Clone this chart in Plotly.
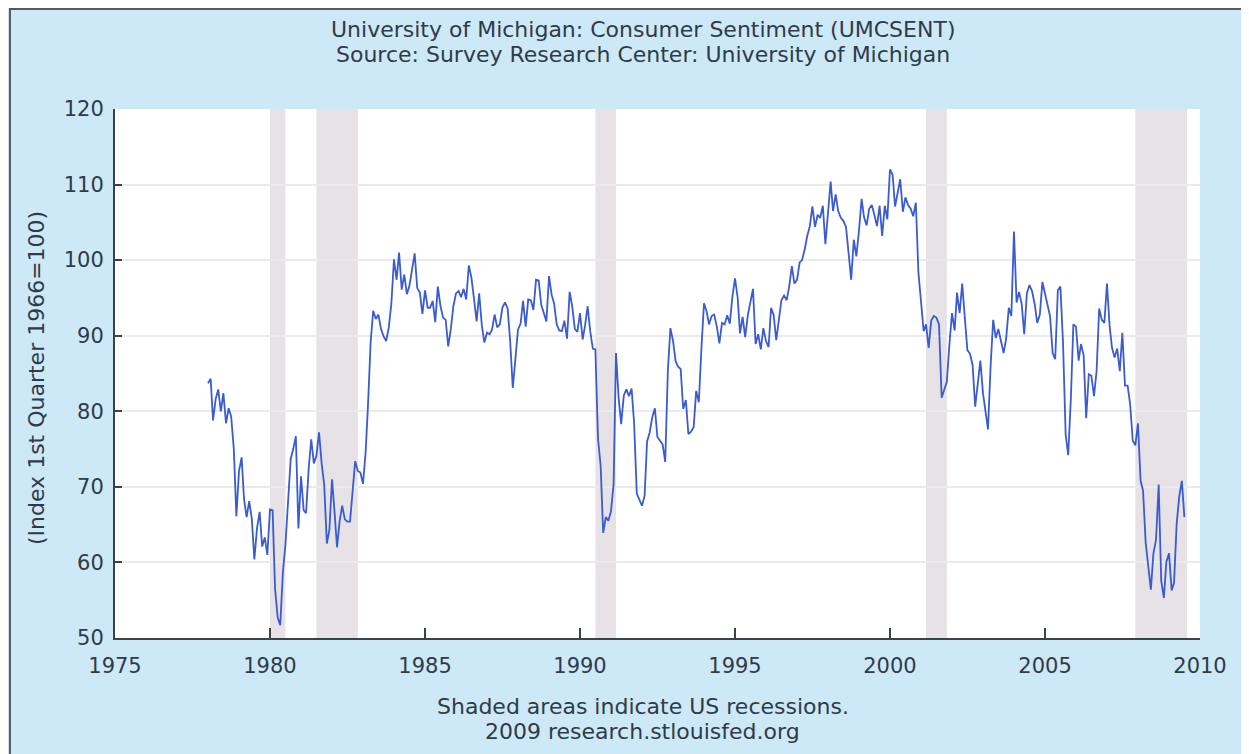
import pandas as pd
import plotly.graph_objects as go

# monthly index values, Jan 1978 onwards
sent_1978_1979 = [
    83.7, 84.3, 78.8, 81.6, 82.9, 80.0, 82.4, 78.4, 80.4, 79.3, 75.0, 66.1,
    72.1, 73.9, 68.4, 66.0, 68.1, 65.8, 60.4, 64.5, 66.7, 62.1, 63.3, 61.0,
]
sent_1980s = [
    67.0, 66.9, 56.5, 52.7, 51.7, 58.7, 62.3, 67.3, 73.7, 75.0, 76.7, 64.5,
    71.4, 66.9, 66.5, 72.4, 76.3, 73.1, 74.1, 77.2, 73.1, 70.3, 62.5, 64.3,
    71.0, 66.5, 62.0, 65.5, 67.5, 65.7, 65.4, 65.4, 69.3, 73.4, 72.1, 71.9,
    70.4, 74.6, 80.8, 89.1, 93.3, 92.2, 92.8, 90.9, 89.9, 89.3, 91.1, 94.2,
    100.1, 97.4, 101.0, 96.1, 98.1, 95.5, 96.6, 99.1, 100.9, 96.3, 95.7, 92.9,
    96.0, 93.7, 93.7, 94.6, 91.8, 96.5, 94.0, 92.4, 92.1, 88.6, 90.9, 93.9,
    95.6, 95.9, 95.1, 96.2, 94.8, 99.3, 97.7, 94.9, 91.9, 95.6, 91.4, 89.1,
    90.4, 90.2, 90.8, 92.8, 91.1, 91.5, 93.7, 94.4, 93.6, 89.3, 83.1, 86.8,
    90.8, 91.6, 94.6, 91.2, 94.8, 94.7, 93.4, 97.4, 97.3, 94.1, 93.0, 91.9,
    97.9, 95.4, 94.3, 91.5, 90.7, 90.6, 92.0, 89.6, 95.8, 93.9, 90.9, 90.5,
]
sent_1990s = [
    93.0, 89.5, 91.3, 93.9, 90.6, 88.3, 88.2, 76.4, 72.8, 63.9, 66.0, 65.5,
    66.8, 70.4, 87.7, 81.8, 78.3, 82.1, 82.9, 82.0, 83.0, 78.3, 69.1, 68.2,
    67.5, 68.8, 76.0, 77.2, 79.2, 80.4, 76.6, 76.1, 75.6, 73.3, 85.3, 91.0,
    89.3, 86.6, 85.9, 85.6, 80.3, 81.5, 77.0, 77.3, 77.9, 82.7, 81.2, 88.2,
    94.3, 93.2, 91.5, 92.6, 92.8, 91.2, 89.0, 91.7, 91.5, 92.7, 91.6, 95.1,
    97.6, 95.1, 90.3, 92.5, 89.8, 92.7, 94.4, 96.2, 88.9, 90.2, 88.2, 91.0,
    89.3, 88.5, 93.7, 92.7, 89.4, 92.4, 94.7, 95.3, 94.7, 96.5, 99.2, 96.9,
    97.4, 99.7, 100.0, 101.4, 103.2, 104.5, 107.1, 104.4, 106.0, 105.6, 107.2, 102.1,
    106.6, 110.4, 106.5, 108.7, 106.5, 105.6, 105.2, 104.4, 100.9, 97.4, 102.7, 100.5,
    103.9, 108.1, 105.7, 104.6, 106.8, 107.3, 106.0, 104.5, 107.2, 103.2, 107.2, 105.4,
]
sent_2000s = [
    112.0, 111.3, 107.1, 109.2, 110.7, 106.4, 108.3, 107.3, 106.8, 105.8, 107.6, 98.4,
    94.7, 90.6, 91.5, 88.4, 92.0, 92.6, 92.4, 91.5, 81.8, 82.7, 83.9, 88.8,
    93.0, 90.7, 95.7, 93.0, 96.9, 92.4, 88.1, 87.6, 86.1, 80.6, 84.2, 86.7,
    82.4, 79.9, 77.6, 86.0, 92.1, 89.7, 90.9, 89.3, 87.7, 89.6, 93.7, 92.6,
    103.8, 94.4, 95.8, 94.2, 90.2, 95.6, 96.7, 95.9, 94.2, 91.7, 92.8, 97.1,
    95.5, 94.1, 92.6, 87.7, 86.9, 96.0, 96.5, 89.1, 76.9, 74.2, 81.6, 91.5,
    91.2, 86.7, 88.9, 87.4, 79.1, 84.9, 84.7, 82.0, 85.4, 93.6, 92.1, 91.7,
    96.9, 91.3, 88.4, 87.1, 88.3, 85.3, 90.4, 83.4, 83.4, 80.9, 76.1, 75.5,
    78.4, 70.8, 69.5, 62.6, 59.8, 56.4, 61.2, 63.0, 70.3, 57.6, 55.3, 60.1,
    61.2, 56.3, 57.3, 65.1, 68.7, 70.8, 66.0,
]

recession_starts = ["1980-01-01", "1981-07-01", "1990-07-01", "2001-03-01", "2007-12-01"]
recession_ends = ["1980-07-01", "1982-11-01", "1991-03-01", "2001-11-01", "2009-08-01"]

x_ticks = ["1975", "1980", "1985", "1990", "1995", "2000", "2005", "2010"]

values = sent_1978_1979 + sent_1980s + sent_1990s + sent_2000s
dates = pd.date_range("1978-01-01", periods=len(values), freq="MS")

FONT = "DejaVu Sans"
TEXT = "#2f3b48"
AXIS = "#3c4248"

fig = go.Figure()
fig.add_trace(go.Scatter(
    x=dates, y=values, mode="lines",
    line=dict(color="#3b5bd0", width=1.8),
    showlegend=False,
))

# recession shading
for start, end in zip(recession_starts, recession_ends):
    fig.add_shape(type="rect", xref="x", yref="paper",
                  x0=start, x1=end, y0=0, y1=1,
                  fillcolor="#e7e2e5", line_width=0, layer="between")

# dark frame around the whole chart
fig.add_shape(type="rect", xref="paper", yref="paper",
              x0=-0.0968, x1=1.1, y0=-0.3, y1=1.189,
              fillcolor="rgba(0,0,0,0)", line=dict(color="#555a60", width=2),
              layer="below")


def note(text, x, y, size=22, angle=0):
    fig.add_annotation(text=text, xref="paper", yref="paper", x=x, y=y,
                       xanchor="center", yanchor="middle", textangle=angle,
                       showarrow=False, font=dict(family=FONT, size=size, color=TEXT))


note("University of Michigan: Consumer Sentiment (UMCSENT)", 0.4866, (638 - 29) / 529)
note("Source: Survey Research Center: University of Michigan", 0.4866, (638 - 55) / 529)
note("(Index 1st Quarter 1966=100)", -0.0728, (638 - 378) / 529, size=22, angle=-90)
note("Shaded areas indicate US recessions.", 0.4866, (638 - 706) / 529)
note("2009 research.stlouisfed.org", 0.4866, (638 - 731) / 529)

fig.update_layout(
    width=1249, height=754,
    margin=dict(l=107, r=57, t=101, b=124),
    paper_bgcolor="#cde9f8",
    plot_bgcolor="white",
    font=dict(family=FONT, size=21, color=TEXT),
)
fig.update_xaxes(
    type="date", range=["1975-01-01", "2010-01-01"],
    tickvals=[f"{y}-01-01" for y in x_ticks], ticktext=x_ticks,
    ticks="inside", ticklen=10, tickwidth=2, tickcolor=AXIS,
    showline=True, linecolor=AXIS, linewidth=2,
    showgrid=False, zeroline=False, ticklabelstandoff=8,
)
fig.update_yaxes(
    range=[50, 120], dtick=10,
    ticks="inside", ticklen=7, tickwidth=2, tickcolor=AXIS,
    showline=True, linecolor=AXIS, linewidth=2,
    showgrid=True, gridcolor="#ebebeb", gridwidth=2,
    zeroline=False, ticklabelstandoff=5,
)

fig.write_html("out.html")
